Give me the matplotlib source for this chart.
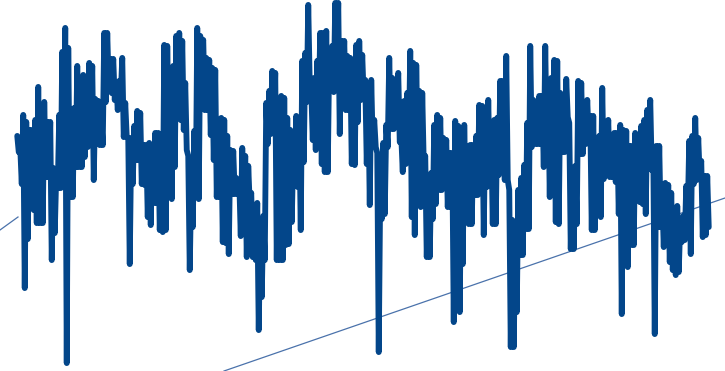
import matplotlib
matplotlib.use("Agg")
import numpy as np
import matplotlib.pyplot as plt

# top and bottom edge of the series per 3 px column (no axes in it)
upper = [133, 145, 112, 119, 127, 127, 117, 84, 138, 99, 119, 119, 165, 172, 112, 49, 25, 45, 128, 105,
         63, 98, 72, 82, 60, 63, 96, 98, 115, 30, 30, 56, 56, 80, 78, 55, 100, 135, 135, 123,
         108, 110, 142, 142, 140, 143, 130, 130, 172, 42, 43, 97, 63, 33, 30, 38, 80, 153, 177, 128,
         25, 33, 37, 55, 57, 65, 67, 127, 115, 117, 133, 147, 148, 175, 178, 145, 153, 163, 190, 202,
         200, 220, 213, 100, 88, 68, 70, 127, 93, 95, 115, 127, 147, 113, 115, 58, 50, 2, 87, 75,
         58, 30, 30, 28, 50, 43, 0, 0, 38, 38, 53, 55, 100, 42, 38, 52, 77, 88, 77, 117,
         150, 182, 140, 122, 55, 75, 93, 70, 133, 98, 90, 48, 60, 62, 88, 90, 153, 187, 170, 122,
         112, 115, 135, 137, 150, 150, 118, 123, 147, 122, 143, 142, 142, 133, 102, 103, 117, 97, 130, 117,
         115, 78, 78, 53, 187, 217, 232, 187, 175, 162, 120, 43, 97, 108, 93, 93, 43, 85, 75, 57,
         58, 90, 93, 76, 120, 173, 163, 78, 80, 100, 97, 113, 113, 135, 133, 85, 132, 117, 135, 130,
         130, 122, 127, 128, 143, 143, 130, 148, 123, 117, 107, 97, 145, 143, 143, 195, 180, 182, 190, 235,
         203, 220, 213, 183, 138, 133, 115, 135, 158, 173, 173]
lower = [155, 187, 291, 242, 200, 213, 226, 226, 226, 180, 180, 263, 236, 191, 191, 180, 366, 200, 200, 170,
         170, 170, 160, 150, 133, 183, 147, 148, 148, 105, 90, 96, 103, 113, 100, 140, 140, 267, 187, 163,
         163, 187, 188, 220, 228, 206, 206, 233, 235, 233, 153, 202, 170, 100, 123, 133, 153, 273, 230, 200,
         202, 52, 113, 113, 138, 163, 200, 200, 245, 246, 257, 197, 197, 197, 239, 203, 260, 207, 260, 263,
         333, 300, 263, 147, 137, 127, 263, 263, 263, 248, 247, 225, 183, 190, 233, 165, 105, 88, 143, 153,
         107, 167, 175, 175, 93, 95, 70, 137, 90, 113, 113, 167, 168, 125, 103, 102, 167, 208, 148, 150,
         355, 222, 217, 150, 132, 132, 113, 145, 175, 167, 153, 220, 238, 153, 210, 167, 260, 260, 222, 207,
         193, 193, 190, 210, 210, 325, 202, 315, 267, 208, 227, 227, 198, 198, 173, 238, 190, 177, 227, 227,
         178, 150, 183, 183, 350, 350, 315, 258, 258, 232, 232, 150, 147, 147, 147, 170, 150, 200, 157, 225,
         227, 155, 155, 120, 252, 252, 227, 157, 157, 147, 142, 233, 233, 193, 220, 182, 163, 180, 180, 185,
         217, 317, 235, 270, 248, 248, 198, 205, 207, 217, 143, 173, 337, 230, 230, 250, 233, 265, 273, 278,
         275, 245, 243, 217, 257, 187, 183, 180, 240, 238, 230]
trend_a_x = [0, 18]
trend_a_y = [230, 217]
trend_b_x = [224, 725]
trend_b_y = [371, 198]

line_color = "#03468a"
trend_color = "#4a72ab"
half_width = 2.9  # line is close to 6 px wide, edges -> centre

columns = np.arange(len(upper)) * 3 + 18
x_vals = np.column_stack([columns - 0.75, columns + 0.75]).ravel()
y_vals = np.column_stack([np.array(upper) + half_width, np.array(lower) - half_width]).ravel()

fig = plt.figure(figsize=(7.25, 3.71), dpi=100)
ax = fig.add_axes([0, 0, 1, 1])
ax.plot(trend_a_x, trend_a_y, color=trend_color, lw=0.9, zorder=1)
ax.plot(trend_b_x, trend_b_y, color=trend_color, lw=0.9, zorder=1)
ax.plot(x_vals, y_vals, color=line_color, lw=4.2,
        solid_joinstyle="round", solid_capstyle="round", zorder=2)
ax.set_xlim(0, 725)
ax.set_ylim(371, 0)
ax.axis("off")
fig.savefig("out.png", dpi=100)
